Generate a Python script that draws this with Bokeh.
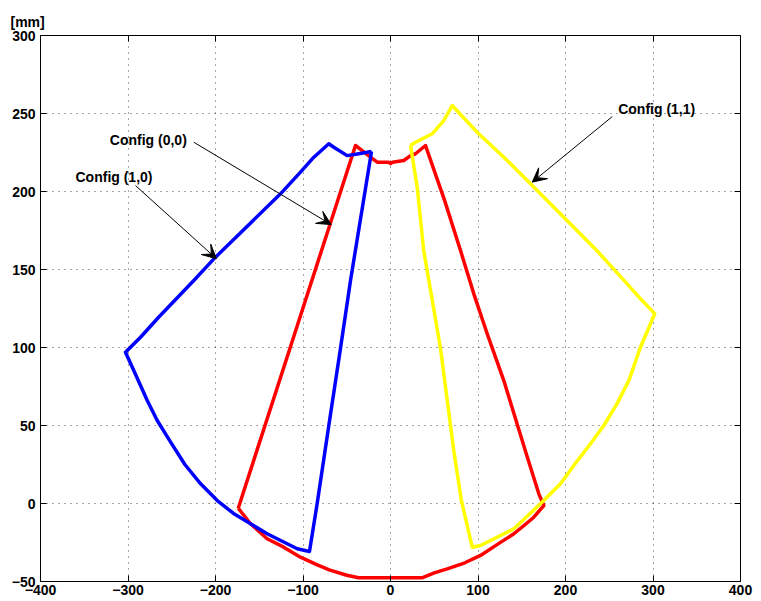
from bokeh.plotting import figure
from bokeh.models import Range1d, LinearAxis, FixedTicker, Arrow, VeeHead, ColumnDataSource
from bokeh.core.properties import value
from bokeh.embed import file_html
from bokeh.resources import INLINE

# ---- data (mm) ----
blue_x = [-21.7, -45.7, -57, -70.5, -83.8, -92.6, -106.6, -141, -179.4, -198, -217, -235, -252,
          -266.6, -278, -293.4, -302.9, -285.7, -265, -224.8, -200, -125.7, -102.9, -87.6,
          -70.5, -64.8, -49.5, -36.2, -21.7]
blue_y = [225.6, 143, 100, 50, 0, -30.8, -29, -19.4, -6.4, 1.9, 12.6, 25, 40,
          53.2, 66, 85.3, 97, 106.6, 119.4, 143, 157.9, 198.5, 212.4, 222,
          230.6, 228.4, 223, 224.2, 225.6]

red_x = [-174, -114.5, -40, -22.9, -15.2, -2.3, 0, 2.3, 15.2, 22.9, 28.6, 40,
         44, 62, 80, 95.2, 110.5, 129.5, 147, 154, 169.5, 175.2,
         163.8, 155, 141, 120, 102.9, 85, 64.8, 50, 36, -36.6, -50, -70, -85, -102.9,
         -122, -141, -160, -174]
red_y = [-3, 100.2, 229.5, 222, 218.8, 218.8, 217.8, 218.8, 219.9, 223, 224.2, 229.5,
         223, 194, 162.2, 134.4, 108.8, 78.8, 46.8, 34, 6.2, -1.3,
         -8.8, -13, -19.4, -27, -33.3, -38, -41.9, -44.5, -47.6, -47.6, -46, -42.5, -39, -34.4,
         -28, -22.6, -13, -3]

yellow_x = [22.9, 28.6, 47.7, 61, 70.5, 99, 129.5, 160, 198, 236, 270.5, 285.7, 293, 302,
            285.7, 272.4, 259, 243.8, 228.6, 209.5, 194.3, 171.4, 141, 102.9, 93.4,
            81, 72.3, 57, 38, 30.5, 22.9]
yellow_y = [229.5, 231.6, 237, 245.5, 255.1, 238, 222, 205, 183.5, 162, 140.8, 131.2, 127, 121.6,
            100.2, 78.8, 64, 50, 38.3, 24.4, 12.6, -0.2, -16.2, -26.9, -28,
            2, 34, 100, 162, 202.8, 229.5]

label_text = ["Config (0,0)", "Config (1,0)", "Config (1,1)"]
label_x = [-320.8, -360, 260.2]
label_y = [232.7, 209.6, 252.6]
arrow_x0 = [-224.8, -291.4, 253.4]
arrow_y0 = [231.6, 203.8, 248]
arrow_x1 = [-67.8, -198.9, 162]
arrow_y1 = [178.8, 156.9, 206]

x_ticks = [-400, -300, -200, -100, 0, 100, 200, 300, 400]
y_ticks = [-50, 0, 50, 100, 150, 200, 250, 300]
unit_text = "[mm]"

FONT = "Liberation Sans"

p = figure(frame_width=700, frame_height=546,
           x_range=Range1d(-400, 400), y_range=Range1d(-50, 300),
           output_backend="svg", toolbar_location=None,
           min_border_left=40, min_border_right=21, min_border_top=35, min_border_bottom=20,
           background_fill_color="white", border_fill_color="white")
p.outline_line_color = "black"
p.outline_line_alpha = 1.0

# unit label at top-left, as the plot title
p.title.text = unit_text
p.title.align = "left"
p.title.offset = -30
p.title.standoff = 11
p.title.text_font = FONT
p.title.text_font_style = "bold"
p.title.text_font_size = "14px"
p.title.text_color = "black"

for ax, ticks in ((p.xaxis[0], x_ticks), (p.yaxis[0], y_ticks)):
    ax.ticker = FixedTicker(ticks=ticks)
    ax.major_tick_in = 6
    ax.major_tick_out = 0
    ax.minor_tick_in = 0
    ax.minor_tick_out = 0
    ax.axis_line_color = "black"
    ax.major_tick_line_color = "black"
    ax.major_label_text_font = FONT
    ax.major_label_text_font_style = "bold"
    ax.major_label_text_font_size = "14px"
    ax.major_label_text_color = "black"
p.xaxis.major_label_standoff = 3
p.yaxis.major_label_standoff = 5

for loc, ticks in (("above", x_ticks), ("right", y_ticks)):
    ax = LinearAxis(ticker=FixedTicker(ticks=ticks), major_tick_in=6, major_tick_out=0,
                    minor_tick_in=0, minor_tick_out=0, major_label_text_font_size="1px",
                    major_label_text_color=None,
                    major_label_standoff=0, axis_line_color="black",
                    major_tick_line_color="black")
    p.add_layout(ax, loc)

p.xgrid.ticker = FixedTicker(ticks=x_ticks)
p.ygrid.ticker = FixedTicker(ticks=y_ticks)
p.grid.grid_line_color = "black"
p.grid.grid_line_alpha = 0.7
p.grid.grid_line_dash = "1 5"
p.grid.grid_line_width = 1

p.line(red_x, red_y, line_color="#FF0000", line_width=3.5, line_join="round")
p.line(blue_x, blue_y, line_color="#0000FF", line_width=3.5, line_join="round")
p.line(yellow_x, yellow_y, line_color="#FFFF00", line_width=3.5, line_join="round")

for i in range(3):
    p.add_layout(Arrow(end=VeeHead(size=14, fill_color="black", line_color="black", line_width=1),
                       x_start=arrow_x0[i], y_start=arrow_y0[i],
                       x_end=arrow_x1[i], y_end=arrow_y1[i],
                       line_color="black", line_width=1))

src = ColumnDataSource(dict(x=label_x, y=label_y, t=label_text))
p.text(x="x", y="y", text="t", source=src, text_font=value(FONT), text_font_style="bold",
       text_font_size="14px", text_color="black", text_baseline="alphabetic", text_align="left")

open("out.html", "w").write(file_html(p, INLINE))
